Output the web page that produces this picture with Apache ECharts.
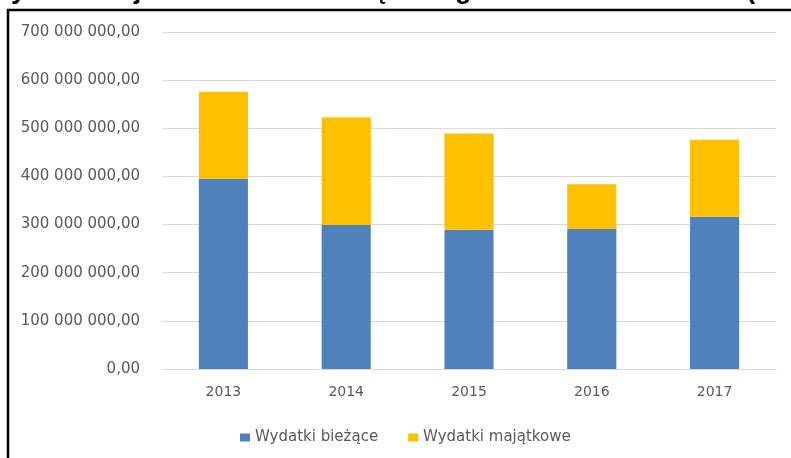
<!DOCTYPE html>
<html>
<head>
<meta charset="utf-8">
<script src="https://cdn.jsdelivr.net/npm/echarts@6/dist/echarts.min.js"></script>
<style>
  html, body { margin: 0; padding: 0; background: #fff; }
  #chart { width: 791px; height: 458px; }
</style>
</head>
<body>
<div id="chart"></div>
<script>
// Wydatki województwa w latach 2013-2017 (zł)
const years = ['2013', '2014', '2015', '2016', '2017'];
const wydatkiBiezace = [395000000, 299000000, 289000000, 291000000, 316000000];
const wydatkiMajatkowe = [181000000, 224000000, 200000000, 93000000, 160000000];
const seriesNames = ['Wydatki bieżące', 'Wydatki majątkowe'];
const titleText = 'Wydatki województwa samorządowego w latach 2013-2017 (w zł)';

// 700000000 -> "700 000 000,00"
function formatPl(v) {
  const s = Math.round(v).toString().replace(/\B(?=(\d{3})+(?!\d))/g, ' ');
  return s + ',00';
}

const labelFont = 'DejaVu Sans';
const chart = echarts.init(document.getElementById('chart'), null, { renderer: 'canvas' });

chart.setOption({
  animation: false,
  backgroundColor: '#ffffff',
  grid: { left: 162, right: 15, top: 32, bottom: 89, containLabel: false },
  legend: {
    data: seriesNames,
    left: 235,
    top: 425,
    itemWidth: 10,
    itemHeight: 8,
    itemGap: 30,
    icon: 'rect',
    textStyle: { color: '#595959', fontFamily: labelFont, fontSize: 15 }
  },
  xAxis: {
    type: 'category',
    data: years,
    axisLine: { lineStyle: { color: '#d9d9d9', width: 1 } },
    axisTick: { show: false },
    axisLabel: { color: '#595959', fontFamily: labelFont, fontSize: 14, margin: 16 }
  },
  yAxis: {
    type: 'value',
    min: 0,
    max: 700000000,
    interval: 100000000,
    axisLine: { show: false },
    axisTick: { show: false },
    splitLine: { lineStyle: { color: '#d9d9d9', width: 1 } },
    axisLabel: {
      color: '#595959',
      fontFamily: labelFont,
      fontSize: 15,
      margin: 22,
      formatter: formatPl
    }
  },
  series: [
    {
      name: seriesNames[0],
      type: 'bar',
      stack: 'total',
      barWidth: '40%',
      data: wydatkiBiezace,
      itemStyle: { color: '#4F81BD' }
    },
    {
      name: seriesNames[1],
      type: 'bar',
      stack: 'total',
      barWidth: '40%',
      data: wydatkiMajatkowe,
      itemStyle: { color: '#FFC000' }
    }
  ],
  graphic: [
    {
      type: 'text',
      left: -14,
      top: -23,
      style: {
        text: titleText,
        font: 'bold 27px "Liberation Sans", Arial, sans-serif',
        fill: '#000000'
      }
    },
    {
      type: 'polyline',
      shape: { points: [[8, 458], [8, 10], [791, 10]] },
      style: { stroke: '#000000', lineWidth: 2.5, fill: null }
    }
  ]
});
</script>
</body>
</html>
